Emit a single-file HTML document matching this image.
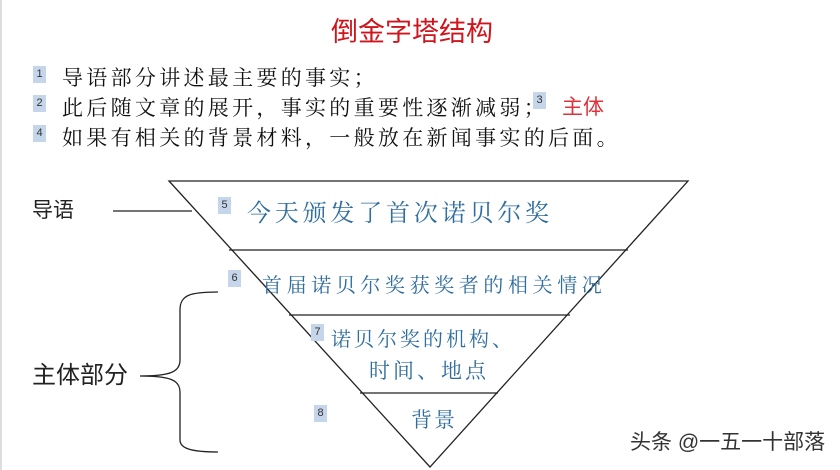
<!DOCTYPE html>
<html><head><meta charset="utf-8"><style>
body{margin:0;width:840px;height:470px;background:#fff;position:relative;overflow:hidden;font-family:"Liberation Sans","Noto Sans CJK SC",sans-serif}
.t{position:absolute;white-space:nowrap;line-height:1}
.b{position:absolute;background:#c5d6ea;color:#333;font-size:11px;width:13px;height:17px;text-align:center;line-height:17px}
.k{font-family:"Liberation Serif","Noto Serif CJK SC",serif;color:#111;font-size:21px;letter-spacing:3.3px}
.bl{color:#2f6d9e;font-family:"Liberation Serif","Noto Serif CJK SC",serif}
</style></head><body>
<div style="position:absolute;left:0;top:0;width:2px;height:470px;background:#ddd"></div>
<div class="t" style="left:331px;top:19px;font-size:27px;color:#d0141c">倒金字塔结构</div>
<div class="b" style="left:33px;top:66px">1</div>
<div class="t k" style="left:62px;top:68px">导语部分讲述最主要的事实；</div>
<div class="b" style="left:33px;top:95px">2</div>
<div class="t k" style="left:62px;top:98px">此后随文章的展开，事实的重要性逐渐减弱；</div>
<div class="b" style="left:533px;top:92px">3</div>
<div class="t" style="left:562px;top:97px;font-size:21px;color:#e0303a">主体</div>
<div class="b" style="left:33px;top:125px">4</div>
<div class="t k" style="left:62px;top:128px">如果有相关的背景材料，一般放在新闻事实的后面。</div>
<svg width="840" height="470" style="position:absolute;left:0;top:0">
<polygon points="169,181 688,181 430,467" fill="none" stroke="#222" stroke-width="1.3"/>
<line x1="229" y1="250" x2="628" y2="250" stroke="#222" stroke-width="1.3"/>
<line x1="289" y1="315" x2="570" y2="315" stroke="#222" stroke-width="1.3"/>
<line x1="360" y1="393" x2="498" y2="393" stroke="#222" stroke-width="1.3"/>
<line x1="113" y1="211" x2="192" y2="211" stroke="#222" stroke-width="1.3"/>
<path d="M218,292 C190,292 180,295 180,310 L180,360 C180,372 170,376 140,376 C170,376 180,380 180,392 L180,440 C180,448 190,452 218,452" fill="none" stroke="#222" stroke-width="1.3"/>
</svg>
<div class="t" style="left:32px;top:200px;font-size:21px;color:#222">导语</div>
<div class="t" style="left:32px;top:364px;font-size:24px;color:#222">主体部分</div>
<div class="b" style="left:218px;top:197px">5</div>
<div class="t bl" style="left:247px;top:202px;font-size:24px;letter-spacing:3.8px">今天颁发了首次诺贝尔奖</div>
<div class="b" style="left:228px;top:270px">6</div>
<div class="t bl" style="left:262px;top:276px;font-size:20px;letter-spacing:4.6px">首届诺贝尔奖获奖者的相关情况</div>
<div class="b" style="left:311px;top:324px">7</div>
<div class="t bl" style="left:331px;top:330px;font-size:20px;letter-spacing:3px">诺贝尔奖的机构、</div>
<div class="t bl" style="left:369px;top:361px;font-size:21px;letter-spacing:3px">时间、地点</div>
<div class="b" style="left:314px;top:405px">8</div>
<div class="t bl" style="left:411px;top:410px;font-size:21px;letter-spacing:2px">背景</div>
<div class="t" style="left:630px;top:432px;font-size:21px;color:#333">头条 @一五一十部落</div>
</body></html>
